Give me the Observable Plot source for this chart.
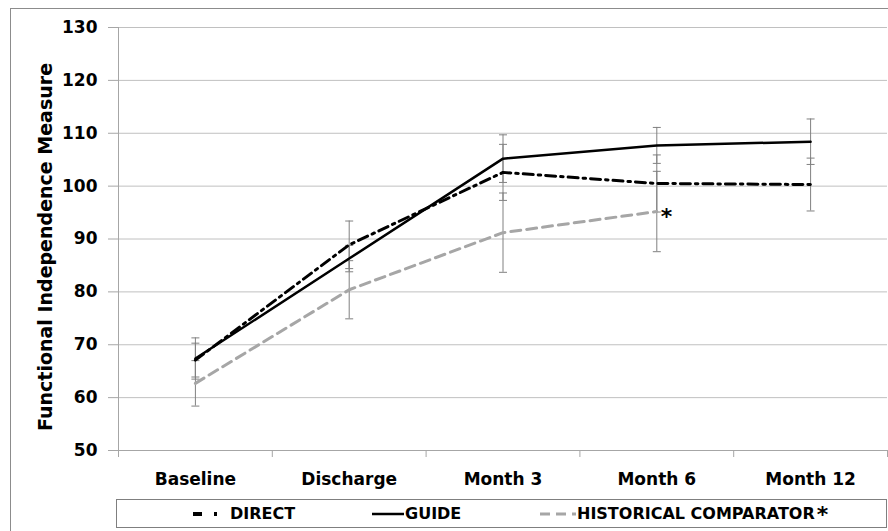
<!DOCTYPE html>
<html><head><meta charset="utf-8">
<script src="https://cdn.jsdelivr.net/npm/d3@7"></script>
<script src="https://cdn.jsdelivr.net/npm/@observablehq/plot@0.6"></script>
<style>
html,body{margin:0;padding:0;background:#fff;}
#wrap{position:relative;width:888px;height:531px;overflow:hidden;font-family:"DejaVu Sans",sans-serif;}
#frame{position:absolute;left:10px;top:8px;width:900px;height:600px;border:1px solid #8c8c8c;box-sizing:border-box;}
#chart{position:absolute;left:0;top:0;}
#legend{position:absolute;left:116px;top:499px;width:771px;height:29px;border:1px solid #7f7f7f;box-sizing:border-box;background:#fff;}
.item{position:absolute;top:0;height:27px;display:flex;align-items:center;font-weight:bold;font-size:16px;color:#000;white-space:nowrap;}
.sample{position:absolute;top:9px;}
</style></head><body>
<div id="wrap"><div id="frame"></div><div id="chart"></div><div id="legend"></div></div>
<script>
const categories = ["Baseline", "Discharge", "Month 3", "Month 6", "Month 12"];
const yTicks = [50, 60, 70, 80, 90, 100, 110, 120, 130];
const yTitle = "Functional Independence Measure";

const guideValues = [67.4, 86.3, 105.2, 107.7, 108.4];
const guideErrors = [3.9, 2.5, 4.5, 3.4, 4.3];
const directValues = [67.1, 88.9, 102.6, 100.5, 100.3];
const directErrors = [3.2, 4.5, 5.3, 5.4, 5.0];
const historicalValues = [62.7, 80.4, 91.2, 95.2];
const historicalErrors = [4.3, 5.5, 7.5, 7.6];

const legendLabels = ["DIRECT", "GUIDE", "HISTORICAL COMPARATOR"];

function rowsOf(name, values, errors) {
  return values.map((v, i) => ({series: name, i, v, lo: v - errors[i], hi: v + errors[i]}));
}
const guideRows = rowsOf("GUIDE", guideValues, guideErrors);
const directRows = rowsOf("DIRECT", directValues, directErrors);
const historicalRows = rowsOf("HISTORICAL COMPARATOR", historicalValues, historicalErrors);
const allRows = [...historicalRows, ...directRows, ...guideRows];
const caps = allRows.flatMap(d => [{i: d.i, y: d.lo}, {i: d.i, y: d.hi}]);
const boundaries = d3.range(categories.length + 1).map(k => k - 0.5);
const capSymbol = {draw(ctx, size) { const w = Math.sqrt(size / Math.PI); ctx.moveTo(-w, 0); ctx.lineTo(w, 0); }};

const axisGray = "#a6a6a6";
const plot = Plot.plot({
  width: 888, height: 495,
  marginLeft: 118, marginRight: 1, marginTop: 27, marginBottom: 45,
  style: {fontFamily: "DejaVu Sans", fontWeight: "bold", background: "transparent", overflow: "visible", color: "black"},
  x: {type: "linear", domain: [-0.5, categories.length - 0.5]},
  y: {domain: [50, 130]},
  marks: [
    Plot.gridY(yTicks.filter(t => t > 50), {stroke: "#c0c0c0", strokeOpacity: 1}),
    Plot.ruleY([50], {stroke: axisGray}),
    Plot.ruleX([-0.5], {stroke: axisGray}),
    Plot.axisY({ticks: yTicks, tickSize: 10, tickPadding: 11, stroke: axisGray, fill: "black", fontSize: 17, fontWeight: "bold", label: null}),
    Plot.axisX({ticks: boundaries, tickSize: 7, tickFormat: () => "", stroke: axisGray, label: null}),
    Plot.axisX({ticks: d3.range(categories.length), tickSize: 0, tickPadding: 22, tickFormat: i => categories[i], fill: "black", fontSize: 17, fontWeight: "bold", label: null}),
    Plot.text([yTitle], {text: d => d, frameAnchor: "left", rotate: -90, textAnchor: "middle", dx: -73, dy: 8, fontSize: 19, fontWeight: "bold", fill: "black"}),
    Plot.ruleX(allRows, {x: "i", y1: "lo", y2: "hi", stroke: "#808080", strokeWidth: 1}),
    Plot.dot(caps, {x: "i", y: "y", symbol: capSymbol, r: 4, stroke: "#808080", fill: "none", strokeWidth: 1}),
    Plot.line(historicalRows, {x: "i", y: "v", stroke: "#a6a6a6", strokeWidth: 3, strokeDasharray: "10,6"}),
    Plot.line(directRows, {x: "i", y: "v", stroke: "black", strokeWidth: 3, strokeDasharray: "10,5,2.5,5"}),
    Plot.line(guideRows, {x: "i", y: "v", stroke: "black", strokeWidth: 2.5}),
    Plot.text(historicalRows.slice(-1), {x: "i", y: "v", text: () => "*", dx: 4, dy: 5, textAnchor: "start", fontSize: 22, fontWeight: "bold", fill: "black"})
  ]
});
document.getElementById("chart").appendChild(plot);

// legend
const legendStyles = [
  {stroke: "black", width: 4, dash: "9,12,3,40", sampleLeft: 76, sampleWidth: 28, textLeft: 113},
  {stroke: "black", width: 2.5, dash: null, sampleLeft: 255, sampleWidth: 32, textLeft: 288},
  {stroke: "#a6a6a6", width: 3, dash: "10,6", sampleLeft: 423, sampleWidth: 36, textLeft: 460}
];
const legend = document.getElementById("legend");
legendLabels.forEach((label, k) => {
  const s = legendStyles[k];
  const svg = d3.create("svg").attr("class", "sample").attr("width", s.sampleWidth).attr("height", 10)
    .style("left", s.sampleLeft + "px");
  svg.append("line").attr("x1", 0).attr("x2", s.sampleWidth).attr("y1", 5).attr("y2", 5)
    .attr("stroke", s.stroke).attr("stroke-width", s.width)
    .attr("stroke-dasharray", s.dash);
  legend.appendChild(svg.node());
  const item = document.createElement("div");
  item.className = "item";
  item.style.left = s.textLeft + "px";
  item.textContent = label;
  if (k === 2) {
    const star = document.createElement("span");
    star.textContent = "*";
    star.style.fontSize = "22px";
    star.style.marginLeft = "2px";
    star.style.position = "relative";
    star.style.top = "1px";
    item.appendChild(star);
  }
  legend.appendChild(item);
});
</script></body></html>
